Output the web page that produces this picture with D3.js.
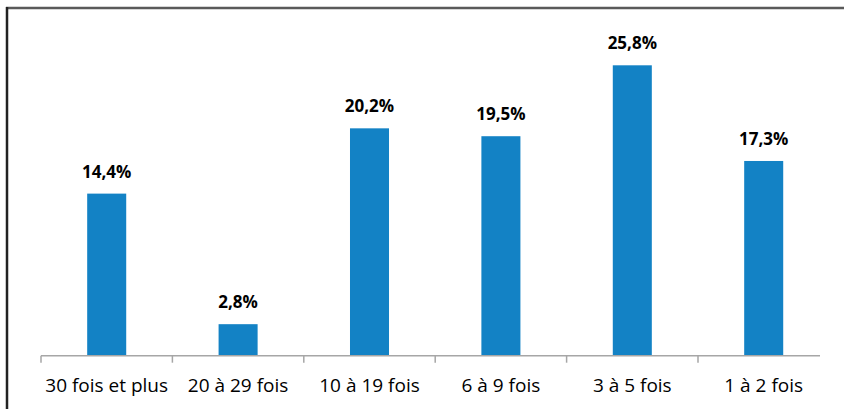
<!DOCTYPE html>
<html>
<head>
	<meta charset="utf-8">
	<script src="https://d3js.org/d3.v7.min.js"></script>
	<style>
		body { margin: 0; background: #fff; }
		svg { display: block; }
	</style>
</head>
<body>
<svg id="container"></svg>
</body>
<script>
// data
let categories = ['30 fois et plus', '20 à 29 fois', '10 à 19 fois', '6 à 9 fois', '3 à 5 fois', '1 à 2 fois'];
let values = [14.4, 2.8, 20.2, 19.5, 25.8, 17.3];
let valueLabels = ['14,4%', '2,8%', '20,2%', '19,5%', '25,8%', '17,3%'];
</script>

<script>
let width = 844, height = 409;
let axisY = 355.7;
let left = 41, right = 829.4;

let svg = d3.select('#container')
	.attr('width', width)
	.attr('height', height);

svg.append('rect')
	.attr('width', width)
	.attr('height', height)
	.attr('fill', 'white');

// frame (top and left only, like the cropped picture)
svg.append('line')
	.attr('x1', 6).attr('x2', width)
	.attr('y1', 8).attr('y2', 8)
	.attr('stroke', '#5a5a5a')
	.attr('stroke-width', 2.5);
svg.append('line')
	.attr('x1', 7).attr('x2', 7)
	.attr('y1', 7).attr('y2', height)
	.attr('stroke', '#222')
	.attr('stroke-width', 2.5);

// scales
let xSteps = d3.scaleBand()
	.domain(categories)
	.range([left, right])
	.padding(0);

let x = d3.scaleBand()
	.domain(categories)
	.range([left, right])
	.paddingInner(0.703)
	.paddingOuter(0.3515);

let y = d3.scaleLinear()
	.domain([0, 25.8])
	.range([axisY, 65.3]);

// bars
svg.append('g')
	.selectAll('rect')
	.data(values)
	.join('rect')
	.attr('x', (d, i) => x(categories[i]))
	.attr('y', (d) => y(d))
	.attr('width', x.bandwidth())
	.attr('height', (d) => y(0) - y(d))
	.attr('fill', '#1382c5');

// value labels
svg.append('g')
	.selectAll('text')
	.data(values)
	.join('text')
	.attr('x', (d, i) => x(categories[i]) + x.bandwidth() / 2)
	.attr('y', (d) => y(d) - 16)
	.attr('text-anchor', 'middle')
	.attr('font-family', '"Open Sans", sans-serif')
	.attr('font-weight', 'bold')
	.attr('font-size', 17)
	.attr('fill', '#000')
	.text((d, i) => valueLabels[i]);

// x axis
let axisG = svg.append('g');
axisG.append('line')
	.attr('x1', left).attr('x2', 820)
	.attr('y1', axisY).attr('y2', axisY)
	.attr('stroke', '#a6a6a6')
	.attr('stroke-width', 1.5);

axisG.selectAll('.tick')
	.data(categories)
	.join('line')
	.attr('class', 'tick')
	.attr('x1', (d) => xSteps(d))
	.attr('x2', (d) => xSteps(d))
	.attr('y1', axisY)
	.attr('y2', axisY + 7)
	.attr('stroke', '#a6a6a6')
	.attr('stroke-width', 1.5);

axisG.selectAll('.label')
	.data(categories)
	.join('text')
	.attr('class', 'label')
	.attr('x', (d) => xSteps(d) + xSteps.bandwidth() / 2)
	.attr('y', 391.5)
	.attr('text-anchor', 'middle')
	.attr('font-family', '"Open Sans", sans-serif')
	.attr('font-size', 19)
	.attr('fill', '#000')
	.text((d) => d);
</script>
</html>
